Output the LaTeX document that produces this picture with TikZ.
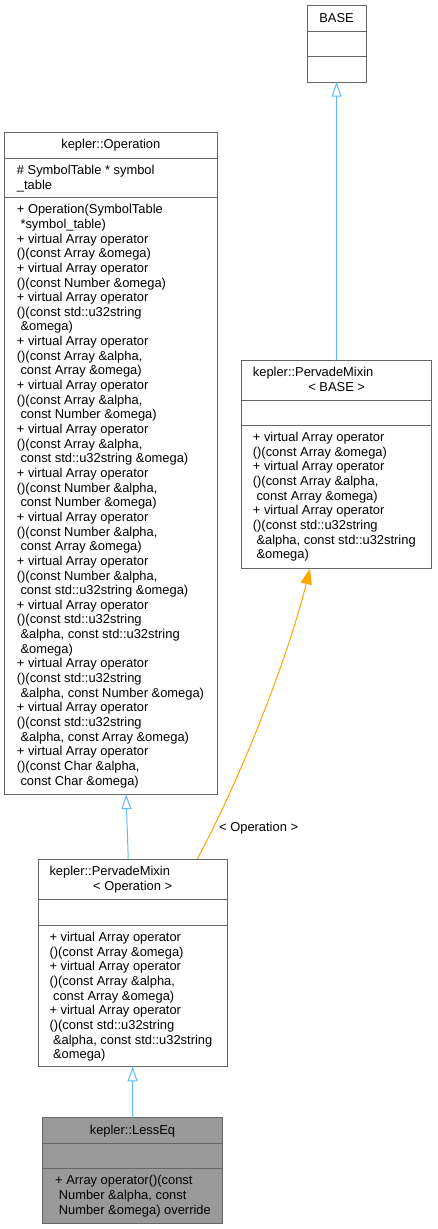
\documentclass[tikz,border=0pt]{standalone}
\usepackage{fontspec}
\setmainfont{Liberation Sans}
\definecolor{boxgray}{RGB}{102,102,102}
\definecolor{lessfill}{RGB}{153,153,153}
\definecolor{inheritblue}{RGB}{99,184,255}
\definecolor{tmplorange}{RGB}{255,165,0}
\usetikzlibrary{arrows.meta,calc}
\newcommand{\contd}{\hspace*{3.6pt}}
\tikzset{
  classbox/.style={rectangle,draw=boxgray,line width=1pt,
                   inner sep=0pt,outer sep=0pt},
  sepline/.style={draw=boxgray,line width=1pt},
  classtitle/.style={inner sep=0pt,anchor=north,
                     font=\fontsize{12.9}{14.65}\selectfont},
  classmembers/.style={inner sep=0pt,anchor=north west,align=left,
                       font=\fontsize{12.9}{14.65}\selectfont},
  edgelabel/.style={inner sep=0pt,anchor=base west,
                    font=\fontsize{12.9}{14.65}\selectfont},
  inherit/.style={-{Triangle[open,length=14.6pt,width=10pt]},
                  line width=1pt,inheritblue},
  templ/.style={-{Triangle[length=16pt,width=11pt]},
                line width=1pt,tmplorange},
}

\begin{document}
\begin{tikzpicture}[x=1pt,y=-1pt]
    \useasboundingbox (0,0) rectangle (437,1229);

    % BASE
    \node[classbox,minimum width=59pt,minimum height=76.3pt] (base) at (336.5,43.85) {};
    \draw[sepline] ([yshift=-25.6pt]base.north west) -- ([yshift=-25.6pt]base.north east);
    \draw[sepline] ([yshift=-51pt]base.north west) -- ([yshift=-51pt]base.north east);
    \node[classtitle] (base-name) at ([yshift=-6pt]base.north) {\strut BASE};

    % PervadeMixin< BASE >
    \node[classbox,minimum width=190pt,minimum height=208.3pt] (pmb) at (336.7,464.15) {};
    \draw[sepline] ([yshift=-40pt]pmb.north west) -- ([yshift=-40pt]pmb.north east);
    \draw[sepline] ([yshift=-65pt]pmb.north west) -- ([yshift=-65pt]pmb.north east);
    \node[classmembers] (pmb-name) at ([xshift=11pt,yshift=-6pt]pmb.north west)
        {\strut kepler::PervadeMixin};
    \node[classtitle] (pmb-arg) at ([yshift=-20.65pt]pmb.north) {\strut < BASE >};
    \node[classmembers] (pmb-ops) at ([xshift=11pt,yshift=-71pt]pmb.north west)
        {\strut+ virtual Array operator\\
         ()(const Array \&omega)\\
         + virtual Array operator\\
         ()(const Array \&alpha,\\
         \contd const Array \&omega)\\
         + virtual Array operator\\
         ()(const std::u32string\\
         \contd\&alpha, const std::u32string\\
         \contd\&omega)};

    % Operation
    \node[classbox,minimum width=212.3pt,minimum height=662.2pt] (op) at (110.85,463.4) {};
    \draw[sepline] ([yshift=-26pt]op.north west) -- ([yshift=-26pt]op.north east);
    \draw[sepline] ([yshift=-65pt]op.north west) -- ([yshift=-65pt]op.north east);
    \node[classtitle] (op-name) at ([yshift=-6pt]op.north) {\strut kepler::Operation};
    \node[classmembers] (op-attr) at ([xshift=12pt,yshift=-32pt]op.north west)
        {\strut\# SymbolTable * symbol\\
         \_table};
    \node[classmembers] (op-ops) at ([xshift=12pt,yshift=-71pt]op.north west)
        {\strut+ Operation(SymbolTable\\
         \contd*symbol\_table)\\
         + virtual Array operator\\
         ()(const Array \&omega)\\
         + virtual Array operator\\
         ()(const Number \&omega)\\
         + virtual Array operator\\
         ()(const std::u32string\\
         \contd\&omega)\\
         + virtual Array operator\\
         ()(const Array \&alpha,\\
         \contd const Array \&omega)\\
         + virtual Array operator\\
         ()(const Array \&alpha,\\
         \contd const Number \&omega)\\
         + virtual Array operator\\
         ()(const Array \&alpha,\\
         \contd const std::u32string \&omega)\\
         + virtual Array operator\\
         ()(const Number \&alpha,\\
         \contd const Number \&omega)\\
         + virtual Array operator\\
         ()(const Number \&alpha,\\
         \contd const Array \&omega)\\
         + virtual Array operator\\
         ()(const Number \&alpha,\\
         \contd const std::u32string \&omega)\\
         + virtual Array operator\\
         ()(const std::u32string\\
         \contd\&alpha, const std::u32string\\
         \contd\&omega)\\
         + virtual Array operator\\
         ()(const std::u32string\\
         \contd\&alpha, const Number \&omega)\\
         + virtual Array operator\\
         ()(const std::u32string\\
         \contd\&alpha, const Array \&omega)\\
         + virtual Array operator\\
         ()(const Char \&alpha,\\
         \contd const Char \&omega)};

    % PervadeMixin< Operation >
    \node[classbox,minimum width=189.3pt,minimum height=207.7pt] (pmop) at (132.65,962.85) {};
    \draw[sepline] ([yshift=-40pt]pmop.north west) -- ([yshift=-40pt]pmop.north east);
    \draw[sepline] ([yshift=-66pt]pmop.north west) -- ([yshift=-66pt]pmop.north east);
    \node[classmembers] (pmop-name) at ([xshift=11.3pt,yshift=-6pt]pmop.north west)
        {\strut kepler::PervadeMixin};
    \node[classtitle] (pmop-arg) at ([yshift=-20.65pt]pmop.north) {\strut < Operation >};
    \node[classmembers] (pmop-ops) at ([xshift=11.3pt,yshift=-72pt]pmop.north west)
        {\strut+ virtual Array operator\\
         ()(const Array \&omega)\\
         + virtual Array operator\\
         ()(const Array \&alpha,\\
         \contd const Array \&omega)\\
         + virtual Array operator\\
         ()(const std::u32string\\
         \contd\&alpha, const std::u32string\\
         \contd\&omega)};

    % LessEq
    \node[classbox,fill=lessfill,minimum width=179.6pt,minimum height=105.6pt] (le) at (132.5,1170.5) {};
    \draw[sepline] ([yshift=-25.6pt]le.north west) -- ([yshift=-25.6pt]le.north east);
    \draw[sepline] ([yshift=-50.6pt]le.north west) -- ([yshift=-50.6pt]le.north east);
    \node[classtitle] (le-name) at ([yshift=-6pt]le.north) {\strut kepler::LessEq};
    \node[classmembers] (le-ops) at ([xshift=12.3pt,yshift=-56.6pt]le.north west)
        {\strut+ Array operator()(const\\
         \contd Number \&alpha, const\\
         \contd Number \&omega) override};

    \draw[inherit] (pmb.north) -- (base.south);
    \draw[inherit] ([xshift=-4.4pt]pmop.north) -- ([xshift=15.2pt]op.south);
    \draw[inherit] (le.north) -- (pmop.south);
    \draw[templ] ([xshift=64.6pt]pmop.north) .. controls (245,770) and (290,650)
        .. ([xshift=-26.7pt]pmb.south);
    \node[edgelabel] (op-arg) at (219,831.7) {< Operation >};

  \end{tikzpicture}
\end{document}
